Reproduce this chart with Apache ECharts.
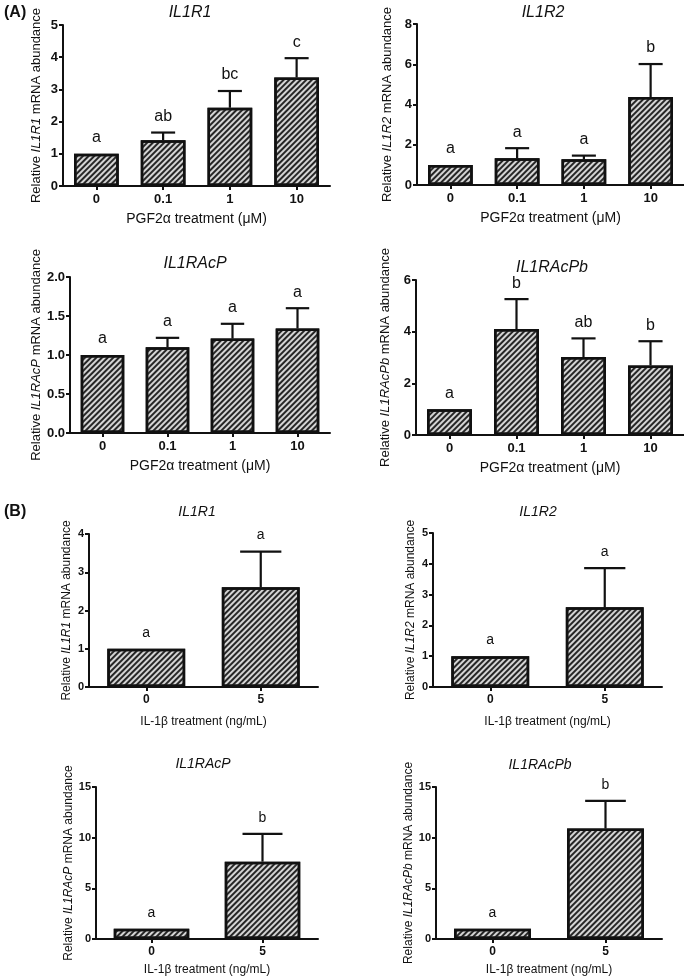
<!DOCTYPE html>
<html><head><meta charset="utf-8">
<script src="https://cdn.jsdelivr.net/npm/echarts@6/dist/echarts.min.js"></script>
<style>html,body{margin:0;padding:0;background:#fff}#c{width:684px;height:979px}</style>
</head><body><div id="c"></div>
<script>
// ---------- data ----------
const catsA = ['0', '0.1', '1', '10'];
const catsB = ['0', '5'];
const xNameA = 'PGF2\u03b1 treatment (\u03bcM)';
const xNameB = 'IL-1\u03b2 treatment (ng/mL)';

const aIL1R1Mean = [1.00, 1.42, 2.43, 3.37];
const aIL1R1Sem = [0, 0.24, 0.52, 0.60];
const aIL1R1Letters = ['a', 'ab', 'bc', 'c'];

const aIL1R2Mean = [1.00, 1.33, 1.28, 4.37];
const aIL1R2Sem = [0, 0.50, 0.18, 1.64];
const aIL1R2Letters = ['a', 'a', 'a', 'b'];

const aIL1RAcPMean = [1.00, 1.10, 1.21, 1.34];
const aIL1RAcPSem = [0, 0.12, 0.19, 0.26];
const aIL1RAcPLetters = ['a', 'a', 'a', 'a'];

const aIL1RAcPbMean = [1.00, 4.10, 3.02, 2.69];
const aIL1RAcPbSem = [0, 1.16, 0.72, 0.94];
const aIL1RAcPbLetters = ['a', 'b', 'ab', 'b'];

const bIL1R1Mean = [1.00, 2.61];
const bIL1R1Sem = [0, 0.93];
const bIL1R1Letters = ['a', 'a'];

const bIL1R2Mean = [1.00, 2.59];
const bIL1R2Sem = [0, 1.27];
const bIL1R2Letters = ['a', 'a'];

const bIL1RAcPMean = [1.00, 7.63];
const bIL1RAcPSem = [0, 2.75];
const bIL1RAcPLetters = ['a', 'b'];

const bIL1RAcPbMean = [1.00, 10.90];
const bIL1RAcPbSem = [0, 2.73];
const bIL1RAcPbLetters = ['a', 'b'];

// y-axis tick settings: [max, interval, decimals]
const yTicksA1 = [5, 1, 0];
const yTicksA2 = [8, 2, 0];
const yTicksA3 = [2, 0.5, 1];
const yTicksA4 = [6, 2, 0];
const yTicksB1 = [4, 1, 0];
const yTicksB2 = [5, 1, 0];
const yTicksB3 = [15, 5, 0];
const yTicksB4 = [15, 5, 0];

// ---------- layout ----------
const FONT = '"Liberation Sans", Arial, Helvetica, sans-serif';
const INK = '#111';

const panels = [
  {gene: 'IL1R1', cats: catsA, mean: aIL1R1Mean, sem: aIL1R1Sem, letters: aIL1R1Letters, yt: yTicksA1, xName: xNameA,
   grid: {left: 63, top: 25, width: 267, height: 161}, title: [190, 13], yGap: 20, xGap: 26, A: true},
  {gene: 'IL1R2', cats: catsA, mean: aIL1R2Mean, sem: aIL1R2Sem, letters: aIL1R2Letters, yt: yTicksA2, xName: xNameA,
   grid: {left: 417, top: 24, width: 268, height: 161}, title: [543, 13], yGap: 23, xGap: 26, A: true},
  {gene: 'IL1RAcP', cats: catsA, mean: aIL1RAcPMean, sem: aIL1RAcPSem, letters: aIL1RAcPLetters, yt: yTicksA3, xName: xNameA,
   grid: {left: 70, top: 277, width: 260, height: 156}, title: [195, 264], yGap: 27, xGap: 26, A: true},
  {gene: 'IL1RAcPb', cats: catsA, mean: aIL1RAcPbMean, sem: aIL1RAcPbSem, letters: aIL1RAcPbLetters, yt: yTicksA4, xName: xNameA,
   grid: {left: 416, top: 280, width: 268, height: 155}, title: [552, 268], yGap: 24, xGap: 26, A: true},
  {gene: 'IL1R1', cats: catsB, mean: bIL1R1Mean, sem: bIL1R1Sem, letters: bIL1R1Letters, yt: yTicksB1, xName: xNameB,
   grid: {left: 89, top: 534, width: 229, height: 153}, title: [197, 512], yGap: 16, xGap: 29, A: false},
  {gene: 'IL1R2', cats: catsB, mean: bIL1R2Mean, sem: bIL1R2Sem, letters: bIL1R2Letters, yt: yTicksB2, xName: xNameB,
   grid: {left: 433, top: 533, width: 229, height: 154}, title: [538, 512], yGap: 16, xGap: 29, A: false},
  {gene: 'IL1RAcP', cats: catsB, mean: bIL1RAcPMean, sem: bIL1RAcPSem, letters: bIL1RAcPLetters, yt: yTicksB3, xName: xNameB,
   grid: {left: 96, top: 787, width: 222, height: 152}, title: [203, 764], yGap: 21, xGap: 25, A: false},
  {gene: 'IL1RAcPb', cats: catsB, mean: bIL1RAcPbMean, sem: bIL1RAcPbSem, letters: bIL1RAcPbLetters, yt: yTicksB4, xName: xNameB,
   grid: {left: 436, top: 787, width: 226, height: 152}, title: [540, 765], yGap: 19, xGap: 25, A: false}
];

const grids = [], xAxes = [], yAxes = [], series = [], graphics = [];

panels.forEach((p, k) => {
  grids.push(Object.assign({containLabel: false}, p.grid));
  const tickFs = p.A ? 13 : 11;
  xAxes.push({
    type: 'category', gridIndex: k, data: p.cats,
    axisLine: {lineStyle: {color: INK, width: 2}},
    axisTick: {show: true, alignWithLabel: true, length: 4, lineStyle: {color: INK, width: 2}},
    axisLabel: {color: INK, fontWeight: 'bold', fontSize: p.A ? 13 : 12, fontFamily: FONT, margin: 7},
    name: p.xName, nameLocation: 'middle', nameGap: p.xGap,
    nameTextStyle: {color: INK, fontSize: p.A ? 14 : 12, fontFamily: FONT}
  });
  const [ymax, yint, dec] = p.yt;
  yAxes.push({
    type: 'value', gridIndex: k, min: 0, max: ymax, interval: yint,
    splitLine: {show: false},
    axisLine: {show: true, lineStyle: {color: INK, width: 2}},
    axisTick: {show: true, length: 4, lineStyle: {color: INK, width: 2}},
    axisLabel: {color: INK, fontWeight: 'bold', fontSize: tickFs, fontFamily: FONT, margin: 5,
      formatter: v => v.toFixed(dec)},
    name: 'Relative {i|' + p.gene + '} mRNA abundance',
    nameLocation: 'middle', nameRotate: 90, nameGap: p.yGap,
    nameTextStyle: {color: INK, fontSize: p.A ? 13 : 12, fontFamily: FONT,
      rich: {i: {fontStyle: 'italic', fontSize: p.A ? 13 : 12, fontFamily: FONT, color: INK}}}
  });
  series.push({
    type: 'bar', xAxisIndex: k, yAxisIndex: k, data: p.mean, silent: true,
    barWidth: p.A ? '67%' : '68%',
    itemStyle: {
      color: '#d4d4d4', borderColor: INK, borderWidth: 2.5,
      decal: {symbol: 'rect', symbolSize: 1, dashArrayX: [1, 0], dashArrayY: [1.3, 1.5],
        rotation: -Math.PI / 4, color: '#262626'}
    }
  });
  const letterFs = p.A ? 16 : 14;
  series.push({
    type: 'custom', xAxisIndex: k, yAxisIndex: k, silent: true, clip: false, z: 5,
    data: p.mean.map((m, i) => [i, m, p.sem[i]]),
    encode: {x: 0, y: 1},
    renderItem: function (params, api) {
      const i = api.value(0), m = api.value(1), s = api.value(2);
      const base = api.coord([i, m]);
      const top = api.coord([i, m + s]);
      const band = api.size([1, 0])[0];
      const hw = band * 0.18;
      const ch = [];
      if (s > 0) {
        ch.push({type: 'line', shape: {x1: top[0], y1: base[1], x2: top[0], y2: top[1]},
          style: {stroke: INK, lineWidth: 2.2}});
        ch.push({type: 'line', shape: {x1: top[0] - hw, y1: top[1], x2: top[0] + hw, y2: top[1]},
          style: {stroke: INK, lineWidth: 2.2}});
      }
      ch.push({type: 'text', style: {text: p.letters[params.dataIndex], x: top[0], y: top[1] - 16,
        align: 'center', verticalAlign: 'middle', fontSize: letterFs, fontFamily: FONT, fill: INK}});
      return {type: 'group', children: ch};
    }
  });
  graphics.push({type: 'text', x: p.title[0], y: p.title[1],
    style: {text: p.gene, align: 'center', verticalAlign: 'middle', fontSize: p.A ? 16 : 14,
      fontStyle: 'italic', fontFamily: FONT, fill: INK}});
});

graphics.push({type: 'text', x: 4, y: 13, style: {text: '(A)', align: 'left', verticalAlign: 'middle',
  fontSize: 16, fontWeight: 'bold', fontFamily: FONT, fill: INK}});
graphics.push({type: 'text', x: 4, y: 512, style: {text: '(B)', align: 'left', verticalAlign: 'middle',
  fontSize: 16, fontWeight: 'bold', fontFamily: FONT, fill: INK}});

const chart = echarts.init(document.getElementById('c'));
chart.setOption({
  animation: false,
  backgroundColor: '#fff',
  grid: grids, xAxis: xAxes, yAxis: yAxes, series: series,
  graphic: graphics
});
</script></body></html>
